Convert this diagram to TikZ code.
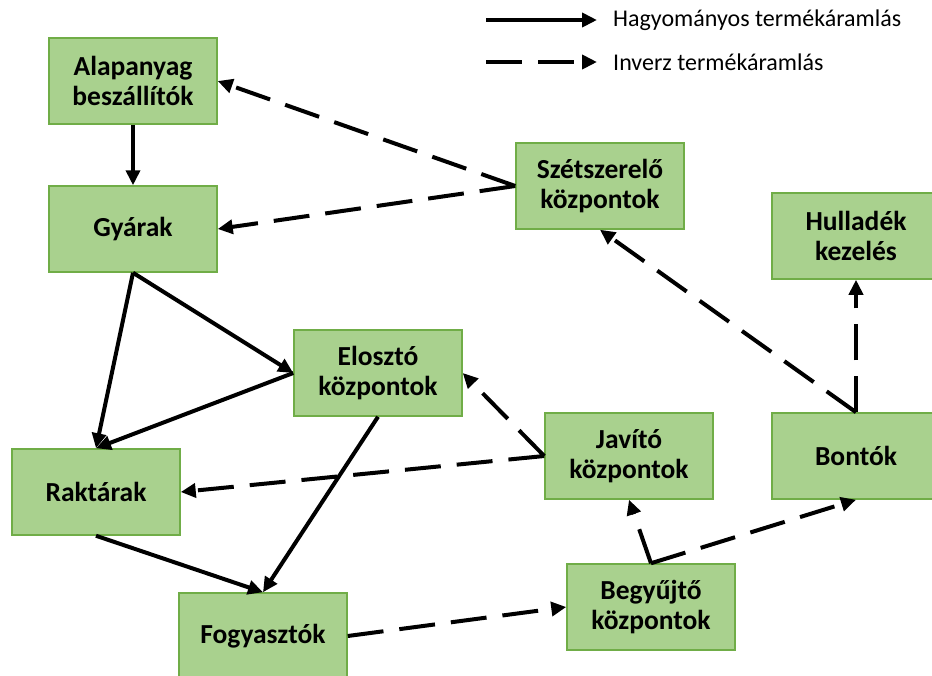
\documentclass[tikz,border=0pt]{standalone}
\usepackage{fontspec}
\setmainfont{Carlito}
\usetikzlibrary{arrows.meta}
\definecolor{boxfill}{HTML}{A9D18E}
\definecolor{boxline}{HTML}{70AD47}
\tikzset{
  box/.style={draw=boxline, fill=boxfill, line width=1.5pt, minimum width=168pt, minimum height=86pt,
    align=center, inner sep=0pt, font=\fontsize{27.5}{30}\selectfont\bfseries},
  solidarrow/.style={line width=4pt, -{Triangle[length=15pt,width=14pt]}},
  dasharrow/.style={line width=4pt, dash pattern=on 36pt off 16pt, -{Triangle[length=15pt,width=14pt]}},
  legtext/.style={anchor=west, inner sep=0pt, font=\fontsize{24}{26}\selectfont}
}
\begin{document}
\begin{tikzpicture}[x=1pt,y=-1pt]
\useasboundingbox (0,0) rectangle (932,675);
\node[box] (alap) at (133,81) {Alapanyag\\beszállítók};
\node[box] (gyar) at (133,229) {Gyárak};
\node[box] (szet) at (600,186) {Szétszerelő\\központok};
\node[box] (hull) at (856,236) {Hulladék\\kezelés};
\node[box] (elo) at (378,373) {Elosztó\\központok};
\node[box] (jav) at (629,456) {Javító\\központok};
\node[box] (bont) at (856,456) {Bontók};
\node[box] (rakt) at (96,492) {Raktárak};
\node[box] (fogy) at (263,636) {Fogyasztók};
\node[box] (begy) at (651,607) {Begyűjtő\\központok};
% solid flows
\draw[solidarrow] (alap.south) -- (gyar.north);
\draw[solidarrow] (gyar.south) -- (rakt.north);
\draw[solidarrow] (gyar.south) -- (elo.west);
\draw[solidarrow] (elo.west) -- (rakt.north);
\draw[solidarrow] (elo.south) -- (fogy.north);
\draw[solidarrow] (rakt.south) -- (fogy.north);
% dashed flows
\draw[dasharrow] (szet.west) -- (alap.east);
\draw[dasharrow] (szet.west) -- (gyar.east);
\draw[dasharrow] (jav.west) -- (rakt.east);
\draw[dasharrow] (jav.west) -- (elo.east);
\draw[dasharrow] (fogy.east) -- (begy.west);
\draw[dasharrow] (begy.north) -- (jav.south);
\draw[dasharrow] (begy.north) -- (bont.south);
\draw[dasharrow] (bont.north) -- (hull.south);
\draw[dasharrow] (bont.north) -- (szet.south);
% legend
\coordinate (l1a) at (486,20);
\coordinate (l1b) at (597,20);
\coordinate (l2a) at (486,62);
\coordinate (l2b) at (597,62);
\draw[solidarrow] (l1a) -- (l1b);
\draw[dasharrow] (l2a) -- (l2b);
\node[legtext] (t1) at (613,20) {Hagyományos termékáramlás};
\node[legtext] (t2) at (613,62) {Inverz termékáramlás};
\end{tikzpicture}
\end{document}
